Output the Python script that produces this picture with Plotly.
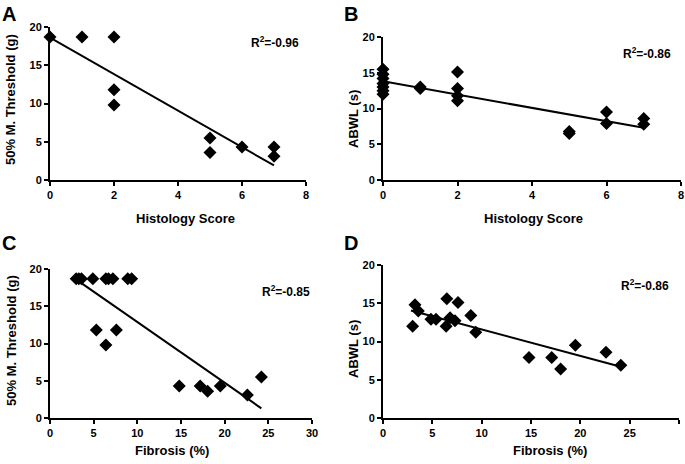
import plotly.graph_objects as go

# Panel A: Histology score vs 50% mechanical threshold
a_x = [0, 1, 2, 2, 2, 5, 5, 6, 7, 7]
a_y = [18.7, 18.7, 18.7, 11.8, 9.8, 5.5, 3.6, 4.3, 4.3, 3.1]
a_fit_x = [0, 7]
a_fit_y = [18.6, 1.9]

# Panel B: Histology score vs ABWL
b_x = [0, 0, 0, 0, 0, 0, 0, 1, 1, 2, 2, 2, 2, 5, 5, 6, 6, 7, 7]
b_y = [15.5, 14.8, 14.2, 13.5, 13.0, 12.5, 12.0, 13.0, 12.8, 15.1, 12.8, 11.8, 11.1, 6.8, 6.5, 9.5, 7.9, 8.6, 7.8]
b_fit_x = [0, 7]
b_fit_y = [13.8, 7.3]

# Panel C: Fibrosis vs 50% mechanical threshold
c_x = [3.0, 3.3, 3.6, 4.9, 6.4, 6.7, 7.2, 8.9, 9.35, 5.3, 6.4, 7.6, 14.8, 17.2, 18.05, 19.5, 22.6, 24.2]
c_y = [18.7, 18.7, 18.7, 18.7, 18.7, 18.7, 18.7, 18.7, 18.7, 11.8, 9.8, 11.8, 4.3, 4.3, 3.6, 4.3, 3.1, 5.5]
c_fit_x = [3.1, 24.2]
c_fit_y = [18.5, 1.3]

# Panel D: Fibrosis vs ABWL
d_x = [3.0, 3.24, 3.58, 4.86, 5.37, 6.4, 6.47, 6.8, 7.3, 7.6, 8.9, 9.4, 14.8, 17.1, 18.0, 19.5, 22.6, 24.1]
d_y = [12.0, 14.8, 14.0, 12.9, 12.9, 12.0, 15.6, 13.1, 12.7, 15.1, 13.4, 11.2, 7.9, 7.9, 6.4, 9.5, 8.6, 6.9]
d_fit_x = [2.83, 24.1]
d_fit_y = [14.06, 6.7]

r2_labels = ["R<sup>2</sup>=-0.96", "R<sup>2</sup>=-0.86", "R<sup>2</sup>=-0.85", "R<sup>2</sup>=-0.86"]
panel_letters = ["A", "B", "C", "D"]
x_titles = ["Histology Score", "Histology Score", "Fibrosis (%)", "Fibrosis (%)"]
y_titles = ["50% M. Threshold (g)", "ABWL (s)", "50% M. Threshold (g)", "ABWL (s)"]
x_ranges = [[0, 8], [0, 8], [0, 30], [0, 30]]
x_dticks = [2, 2, 5, 5]

W, H = 685, 464
FONT = "Liberation Sans, Arial, sans-serif"

# pixel boxes (left, right, top, bottom)
boxes = [(50, 306, 27, 180), (383, 681, 37, 180), (50, 312, 269, 418), (383, 679, 265, 418)]

fig = go.Figure()
data = [(a_x, a_y, a_fit_x, a_fit_y), (b_x, b_y, b_fit_x, b_fit_y),
        (c_x, c_y, c_fit_x, c_fit_y), (d_x, d_y, d_fit_x, d_fit_y)]

for i, (px, py, fx, fy) in enumerate(data):
    sfx = "" if i == 0 else str(i + 1)
    fig.add_trace(go.Scatter(x=fx, y=fy, mode="lines", line=dict(color="black", width=2),
                             xaxis="x" + sfx, yaxis="y" + sfx, showlegend=False, cliponaxis=False))
    fig.add_trace(go.Scatter(x=px, y=py, mode="markers",
                             marker=dict(symbol="diamond", size=10, color="black"),
                             xaxis="x" + sfx, yaxis="y" + sfx, showlegend=False, cliponaxis=False))
    l, r, t, b = boxes[i]
    xd = [l / W, r / W]
    yd = [1 - b / H, 1 - t / H]
    axis_common = dict(showline=True, linecolor="black", linewidth=2, ticks="outside",
                       ticklen=4, tickwidth=2, tickcolor="black", showgrid=False, zeroline=False,
                       automargin=False,
                       tickfont=dict(family=FONT, size=11, color="black", weight="bold"))
    fig.update_layout(**{
        "xaxis" + sfx: dict(domain=xd, range=x_ranges[i], dtick=x_dticks[i], anchor="y" + sfx,
                            **axis_common),
        "yaxis" + sfx: dict(domain=yd, range=[0, 20], dtick=5, anchor="x" + sfx,
                            **axis_common),
    })

# annotations (pixel centres)
r2_pos = [(275, 42), (647, 53), (286, 291), (645, 285)]
letter_pos = [(9, 14), (351, 14), (9, 243), (351, 243)]
xtitle_pos = [(185, 218), (533, 218), (172, 450), (550, 450)]
ytitle_pos = [(11, 100), (353, 119), (11, 341), (353, 349)]
ann = []
for i in range(4):
    ann.append(dict(x=r2_pos[i][0] / W, y=1 - r2_pos[i][1] / H, xref="paper", yref="paper",
                    text=r2_labels[i], showarrow=False, xanchor="center", yanchor="middle",
                    font=dict(family=FONT, size=12, color="black", weight="bold")))
    ann.append(dict(x=letter_pos[i][0] / W, y=1 - letter_pos[i][1] / H, xref="paper", yref="paper",
                    text=panel_letters[i], showarrow=False, xanchor="center", yanchor="middle",
                    font=dict(family=FONT, size=20, color="black", weight="bold")))
    ann.append(dict(x=xtitle_pos[i][0] / W, y=1 - xtitle_pos[i][1] / H, xref="paper", yref="paper",
                    text=x_titles[i], showarrow=False, xanchor="center", yanchor="middle",
                    font=dict(family=FONT, size=13, color="black", weight="bold")))
    ann.append(dict(x=ytitle_pos[i][0] / W, y=1 - ytitle_pos[i][1] / H, xref="paper", yref="paper",
                    text=y_titles[i], showarrow=False, xanchor="center", yanchor="middle",
                    textangle=-90,
                    font=dict(family=FONT, size=13, color="black", weight="bold")))

fig.update_layout(width=W, height=H, margin=dict(l=0, r=0, t=0, b=0),
                  paper_bgcolor="white", plot_bgcolor="white", annotations=ann,
                  font=dict(family=FONT, color="black"))

fig.write_html("out.html", config={"displayModeBar": False},
               post_script="document.body.style.margin='0';")
